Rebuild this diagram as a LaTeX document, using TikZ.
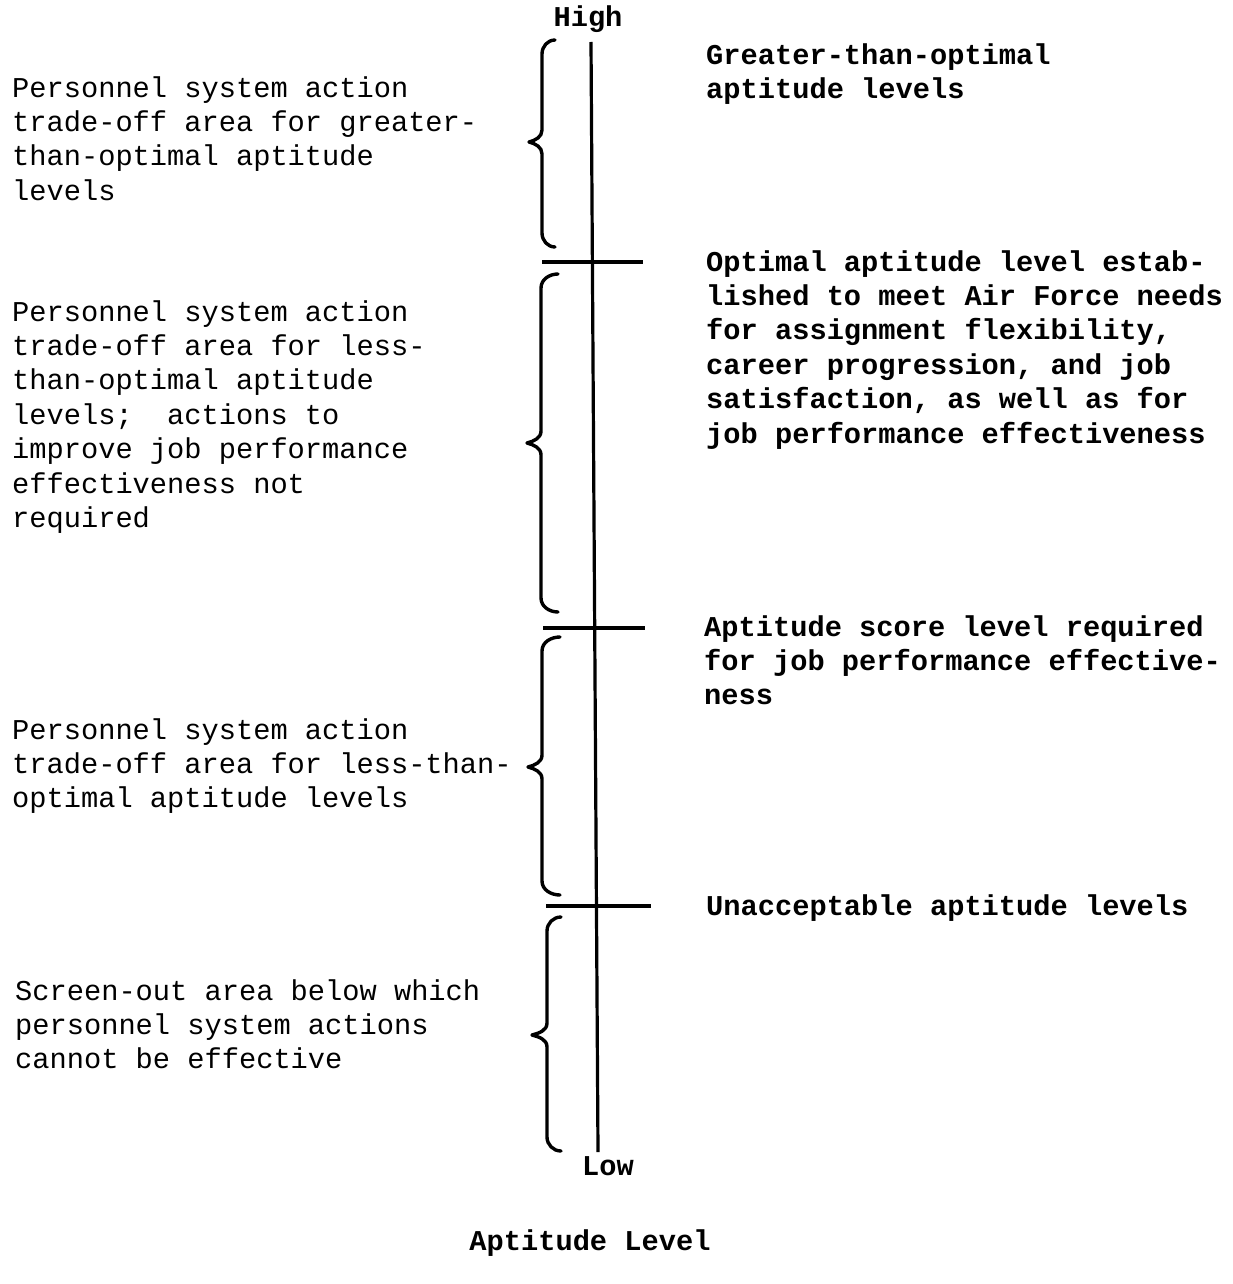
\documentclass[tikz,border=0pt]{standalone}
\usepackage{fontspec}
\newfontfamily\twr{Liberation Mono}
\newcommand\apbrace[6]{% xr, xs, xt, ytop, ymid, ybot
  \draw[brc] (#1,#4) to[out=180,in=90] (#2,#4+14) -- (#2,#5-12)
    to[out=-90,in=15] (#3,#5) to[out=-15,in=90] (#2,#5+12) -- (#2,#6-14)
    to[out=-90,in=180] (#1,#6);}
\tikzset{
  lbl/.style={font=\twr\fontsize{28.7}{34.4}\selectfont\frenchspacing,
              anchor=north west, inner sep=0pt, align=left},
  blbl/.style={lbl, font=\twr\bfseries\fontsize{28.7}{34.4}\selectfont\frenchspacing},
  single/.style={font=\twr\bfseries\fontsize{28.7}{34.4}\selectfont, anchor=base, inner sep=0pt},
  axisline/.style={line width=3.2pt},
  brc/.style={line width=3.4pt, line cap=round, line join=round},
}
\begin{document}
\begin{tikzpicture}[x=1pt,y=-1pt]
\fill[white] (0,0) rectangle (1233,1284);
\useasboundingbox (0,0) rectangle (1233,1284);

% axis
\coordinate (top) at (591,42);
\coordinate (bot) at (598,1152);
\draw[axisline] (top) -- (bot);
\coordinate (t1a) at (542,262); \coordinate (t1b) at (643,262);
\coordinate (t2a) at (543,628); \coordinate (t2b) at (645,628);
\coordinate (t3a) at (546,906); \coordinate (t3b) at (651,906);
\draw[axisline] (t1a) -- (t1b);
\draw[axisline] (t2a) -- (t2b);
\draw[axisline] (t3a) -- (t3b);

\node[single] (high) at (588,27) {High};
\node[single] (low) at (608,1175) {Low};
\node[single] (title) at (590,1250) {Aptitude Level};

% braces
\apbrace{555}{542}{529}{40}{142}{247}
\apbrace{558}{541}{527}{274}{443}{612}
\apbrace{560}{542}{528}{637}{767}{895}
\apbrace{561}{547}{532}{917}{1035}{1151}

% left texts
\node[lbl] (l1) at (12,72.9) {\strut Personnel system action\\trade-off area for greater-\\than-optimal aptitude\\levels};
\node[lbl] (l2) at (12,296.9) {\strut Personnel system action\\trade-off area for less-\\than-optimal aptitude\\levels;\ \ actions to\\improve job performance\\effectiveness not\\required};
\node[lbl] (l3) at (12,714.9) {\strut Personnel system action\\trade-off area for less-than-\\optimal aptitude levels};
\node[lbl] (l4) at (15,975.9) {\strut Screen-out area below which\\personnel system actions\\cannot be effective};

% right texts
\node[blbl] (r1) at (706,39.9) {\strut Greater-than-optimal\\aptitude levels};
\node[blbl] (r2) at (706,246.9) {\strut Optimal aptitude level estab-\\lished to meet Air Force needs\\for assignment flexibility,\\career progression, and job\\satisfaction, as well as for\\job performance effectiveness};
\node[blbl] (r3) at (704,611.9) {\strut Aptitude score level required\\for job performance effective-\\ness};
\node[blbl] (r4) at (706,890.9) {\strut Unacceptable aptitude levels};
\end{tikzpicture}
\end{document}
